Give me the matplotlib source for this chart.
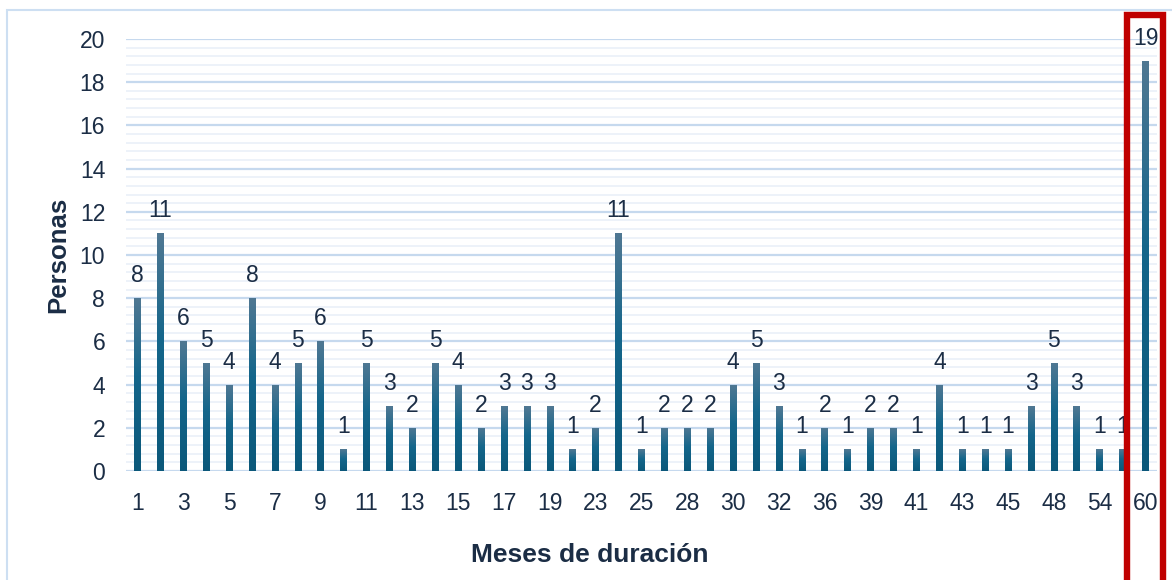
import matplotlib.pyplot as plt
import numpy as np
from matplotlib.colors import LinearSegmentedColormap
from matplotlib.patches import Rectangle
from matplotlib.ticker import MultipleLocator

plt.rcParams['font.family'] = ['Liberation Sans', 'DejaVu Sans']

# Meses de duración (categorías) y número de personas
meses = ['1', '2', '3', '4', '5', '6', '7', '8', '9', '10',
         '11', '12', '13', '14', '15', '16', '17', '18', '19', '20',
         '23', '24', '25', '26', '28', '29', '30', '31', '32', '33',
         '36', '37', '39', '40', '41', '42', '43', '44', '45', '46',
         '48', '50', '54', '56', '60']
personas = [8, 11, 6, 5, 4, 8, 4, 5, 6, 1,
            5, 3, 2, 5, 4, 2, 3, 3, 3, 1,
            2, 11, 1, 2, 2, 2, 4, 5, 3, 1,
            2, 1, 2, 2, 1, 4, 1, 1, 1, 3,
            5, 3, 1, 1, 19]

text_color = '#1b2d45'
cmap = LinearSegmentedColormap.from_list(
    'barra', [(0, '#0b587a'), (0.55, '#14668b'), (1, '#507893')])

fig = plt.figure(figsize=(11.72, 5.80), dpi=100)
ax = fig.add_axes([126 / 1172, 1 - 471 / 580, 1031 / 1172, 432 / 580])

x = np.arange(len(meses))
bars = ax.bar(x, personas, width=0.29, color='#14668b', zorder=3)

# gradient fill per bar
grad = np.linspace(0, 1, 256).reshape(-1, 1)
for b in bars:
    x0, y0, w, h = b.get_x(), b.get_y(), b.get_width(), b.get_height()
    im = ax.imshow(grad, cmap=cmap, origin='lower', aspect='auto',
                   extent=(x0, x0 + w, y0, y0 + h), zorder=4)
    im.set_clip_path(b)

for xi, v in zip(x, personas):
    ax.annotate(str(v), (xi, v), xytext=(0, 11.5), textcoords='offset points',
                ha='center', va='baseline', fontsize=16.5, color=text_color,
                zorder=5)

ax.set_xlim(-0.5, len(meses) - 0.5)
ax.set_ylim(0, 20)
ax.yaxis.set_major_locator(MultipleLocator(2))
ax.yaxis.set_minor_locator(MultipleLocator(0.4))
ax.set_xticks(x[::2], labels=meses[::2])
ax.tick_params(axis='both', which='both', length=0, labelsize=16.5,
               labelcolor=text_color, pad=15)
ax.grid(axis='y', which='major', color='#c6d9ee', linewidth=1.6, zorder=0)
ax.grid(axis='y', which='minor', color='#edf2f9', linewidth=1.4, zorder=0)
ax.set_axisbelow(True)
for s in ax.spines.values():
    s.set_visible(False)

ax.set_ylabel('Personas', fontsize=18.5, fontweight='bold', color=text_color,
              labelpad=7)
fig.text(590 / 1172, 1 - 555 / 580, 'Meses de duración', ha='center',
         va='center', fontsize=19, fontweight='bold', color=text_color)

# outer chart border
fig.patches.append(Rectangle((7 / 1172, -0.1), 1.2, 1 - 10 / 580 + 0.1,
                             transform=fig.transFigure, fill=False,
                             edgecolor='#cddff2', linewidth=1.5, zorder=0))
# red highlight box
fig.patches.append(Rectangle((1127 / 1172, -0.1), 36 / 1172,
                             1 - 15 / 580 + 0.1, transform=fig.transFigure,
                             fill=False, edgecolor='#c00000', linewidth=4.6,
                             zorder=10))

fig.savefig('out.png', dpi=100)
